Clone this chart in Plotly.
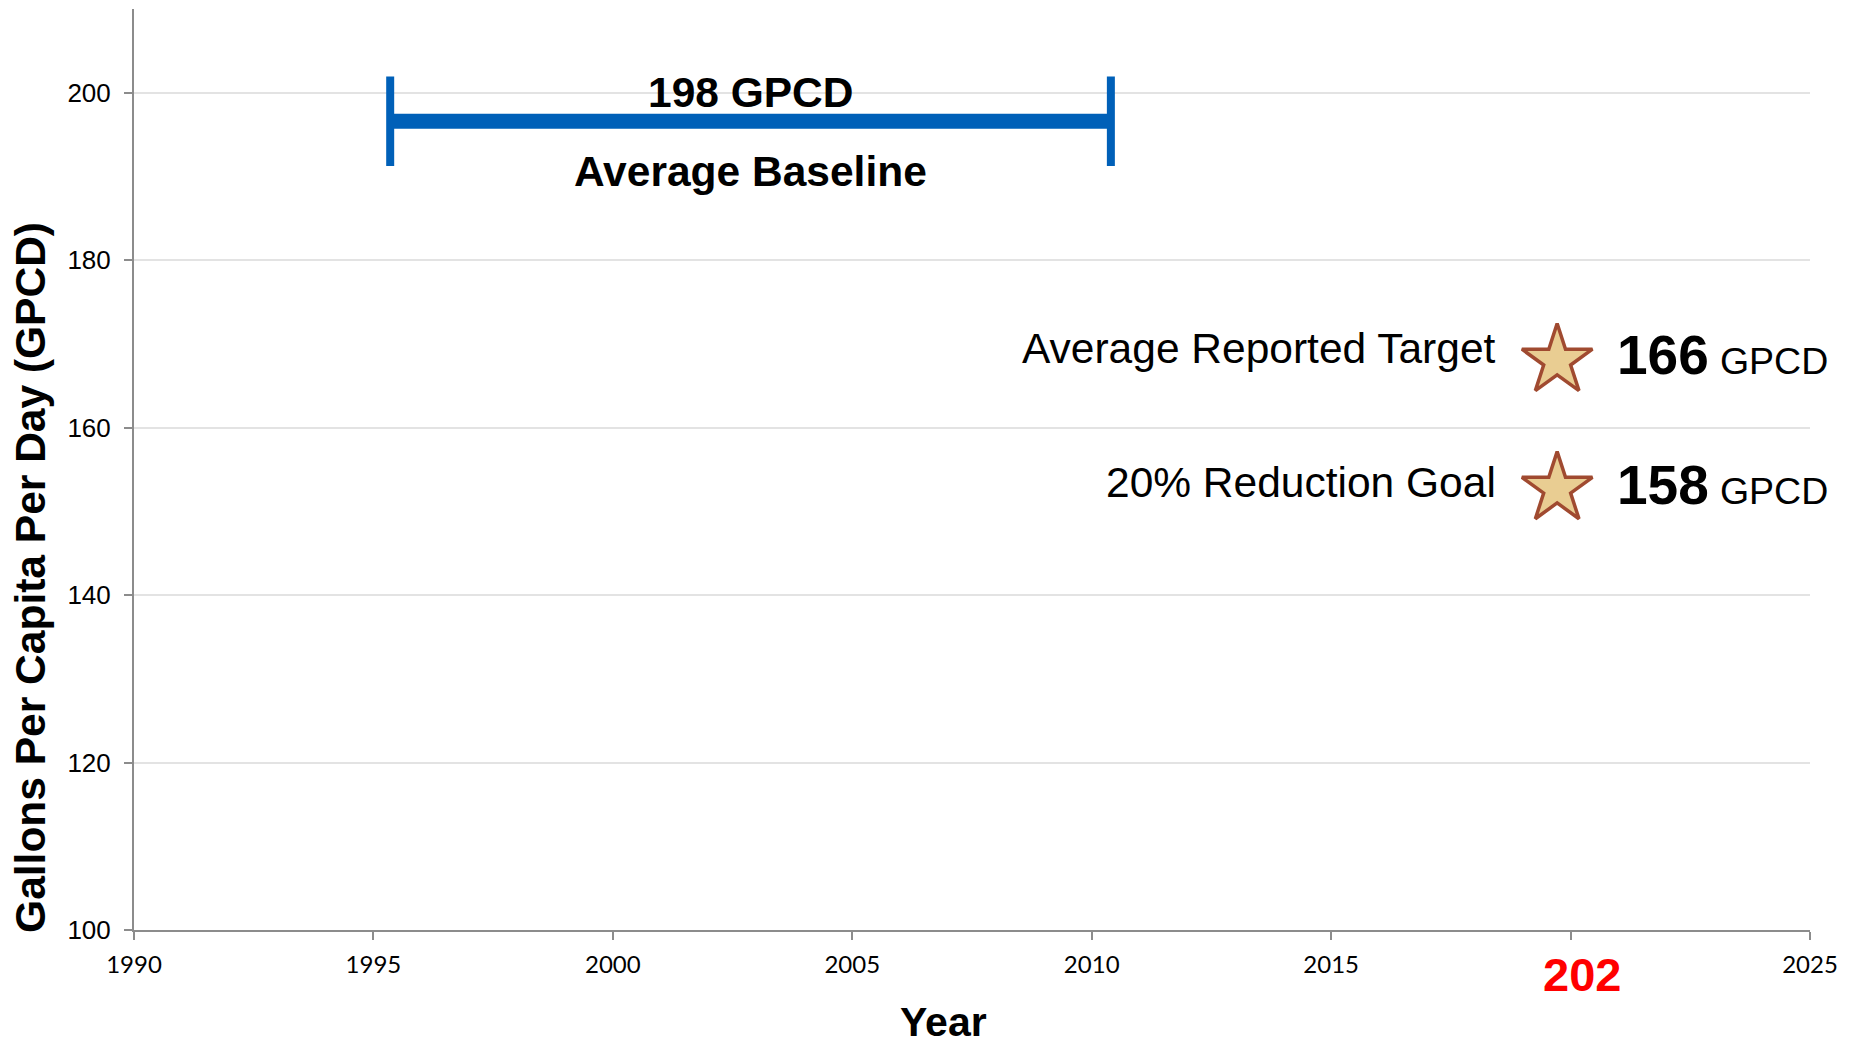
import plotly.graph_objects as go

# ---- data ----
baseline_years = [1995.35, 2010.4]
baseline_value = [196.6, 196.6]
baseline_label = "198 GPCD"
baseline_caption = "Average Baseline"

star_years = [2019.72, 2019.72]
star_values = [168.0, 152.7]
star_names = ["Average Reported Target", "20% Reduction Goal"]
star_numbers = ["166", "158"]
star_units = ["GPCD", "GPCD"]

x_tickvals = [1990, 1995, 2000, 2005, 2010, 2015, 2020, 2025]
x_ticktext = ["1990", "1995", "2000", "2005", "2010", "2015", "", "2025"]
y_tickvals = [100, 120, 140, 160, 180, 200]
highlight_year = 2020.23
highlight_text = "202"

ARIAL = "Arial, Liberation Sans, sans-serif"
BLUE = "#0060B8"

fig = go.Figure()

# baseline bar
fig.add_trace(go.Scatter(
    x=baseline_years, y=baseline_value, mode="lines+markers",
    line=dict(color=BLUE, width=15),
    marker=dict(symbol="line-ns", size=64, line=dict(color=BLUE, width=8)),
    hoverinfo="skip", showlegend=False, cliponaxis=False,
))

# stars
fig.add_trace(go.Scatter(
    x=star_years, y=star_values, mode="markers",
    marker=dict(symbol="star", size=53, color="#E9CD92",
                line=dict(color="#A04A30", width=3.5)),
    hoverinfo="skip", showlegend=False, cliponaxis=False,
))

ann = []
mid = sum(baseline_years) / 2
ann.append(dict(x=mid, y=baseline_value[0], xref="x", yref="y", text="<b>%s</b>" % baseline_label,
                showarrow=False, font=dict(family=ARIAL, size=42.5, color="black"), yshift=29))
ann.append(dict(x=mid, y=baseline_value[0], xref="x", yref="y", text="<b>%s</b>" % baseline_caption,
                showarrow=False, font=dict(family=ARIAL, size=42.5, color="black"), yshift=-50))

shifts = [(12, 6), (6, 4)]
for xv, yv, nm, num, unit, (s1, s2) in zip(star_years, star_values, star_names, star_numbers, star_units, shifts):
    ann.append(dict(x=xv, y=yv, xref="x", yref="y", text=nm, showarrow=False,
                    xanchor="right", xshift=-59, yshift=s1,
                    font=dict(family=ARIAL, size=42.5, color="black")))
    ann.append(dict(x=xv, y=yv, xref="x", yref="y",
                    text="<b style='font-size:55px'>%s</b> <span style='font-size:37.5px'>%s</span>" % (num, unit),
                    showarrow=False, xanchor="left", xshift=58, yshift=s2,
                    font=dict(family=ARIAL, size=40, color="black")))

ann.append(dict(x=highlight_year, y=0, xref="x", yref="paper", text="<b>%s</b>" % highlight_text,
                showarrow=False, yanchor="middle", yshift=-44,
                font=dict(family=ARIAL, size=47, color="#FF0000")))

ann.append(dict(x=0, y=0.3823, xref="paper", yref="paper", text="<b>Gallons Per Capita Per Day (GPCD)</b>",
                showarrow=False, textangle=-90, xanchor="center", yanchor="middle", xshift=-103,
                font=dict(family=ARIAL, size=42.5, color="black")))
ann.append(dict(x=2006.9, y=0, xref="x", yref="paper", text="<b>Year</b>",
                showarrow=False, yanchor="middle", yshift=-92,
                font=dict(family=ARIAL, size=41, color="black")))

fig.update_layout(
    width=1852, height=1047,
    margin=dict(l=134, r=42, t=9, b=117),
    paper_bgcolor="white", plot_bgcolor="white",
    annotations=ann,
    xaxis=dict(range=[1990, 2025], tickvals=x_tickvals, ticktext=x_ticktext,
               showgrid=False, zeroline=False, showline=True, linecolor="#8C8C8C", linewidth=2,
               ticks="outside", ticklen=8, tickwidth=2, tickcolor="#8C8C8C",
               ticklabelstandoff=4,
               tickfont=dict(family="Lato, Carlito, sans-serif", size=24, color="black")),
    yaxis=dict(range=[100, 210], tickvals=y_tickvals,
               showgrid=True, gridcolor="#E3E3E3", gridwidth=1.5, zeroline=False,
               showline=True, linecolor="#8C8C8C", linewidth=2,
               ticks="outside", ticklen=8, tickwidth=2, tickcolor="#8C8C8C",
               tickfont=dict(family=ARIAL, size=26, color="black"), ticklabelstandoff=8),
)

fig.write_html("out.html", config={"displayModeBar": False},
               post_script="document.body.style.margin='0px'; document.body.style.overflow='hidden';")
